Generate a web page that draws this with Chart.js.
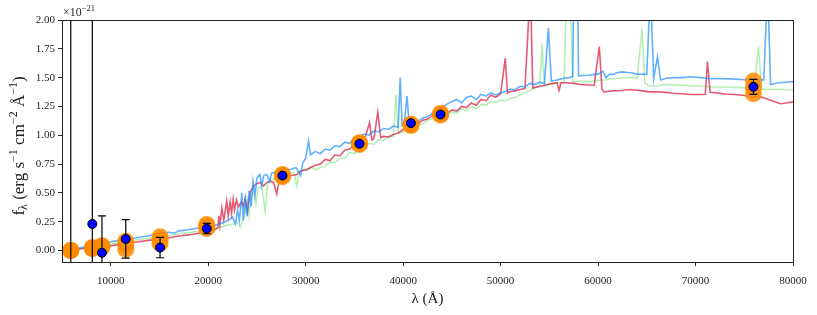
<!DOCTYPE html>
<html>
<head>
<meta charset="utf-8">
<script src="https://cdn.jsdelivr.net/npm/chart.js@4/dist/chart.umd.min.js"></script>
<style>
  body { margin: 0; background: #fff; }
  canvas { display: block; }
</style>
</head>
<body>
<canvas id="sed" width="817" height="315"></canvas>
<script>
// model spectra (flux in units of 1e-21 erg/s/cm2/A)
const lamBlue = [6000,7000,8000,9000,10000,11000,12000,13000,14000,15000,16000,16500,17000,18000,19000,20000,21000,21500,22000,22500,22800,23000,23200,23450,23600,23800,24000,24200,24400,24600,24800,25000,25300,25500,25700,26000,26300,26500,27000,27500,28000,28500,29000,29500,29700,30000,30300,30500,31000,31500,32000,32500,33000,33500,34000,34500,35000,35500,36000,36500,37000,37500,38000,38500,39000,39500,39700,39900,40100,40400,40600,41000,41500,42000,42500,43000,43500,44000,44500,45000,45500,46000,46500,47000,47500,48000,48500,49000,49500,50000,50500,51000,51500,52000,52500,53000,53500,54000,54500,54900,55200,55800,56500,57000,57400,57500,57900,58000,58500,59000,59500,60000,60500,60800,61200,61500,62000,62500,63000,63500,64000,64500,65000,65370,65700,66100,66400,67000,67700,68500,69500,70500,71500,72500,73500,74500,75500,76500,77000,77400,77700,78500,79500,80000];
const fluxBlue = [0.010,0.025,0.040,0.058,0.075,0.090,0.102,0.115,0.130,0.145,0.158,0.150,0.170,0.180,0.195,0.210,0.225,0.240,0.260,0.290,0.230,0.350,0.260,0.500,0.260,0.450,0.300,0.520,0.380,0.600,0.480,0.630,0.660,0.560,0.650,0.660,0.600,0.670,0.680,0.690,0.700,0.705,0.720,0.650,0.760,
    0.800,0.950,0.830,0.860,0.840,0.880,0.870,0.910,0.900,0.940,0.930,0.980,0.990,1.010,1.000,1.035,1.030,1.060,1.050,1.080,1.070,1.500,1.080,1.090,1.340,1.110,1.130,1.120,1.150,1.160,1.190,1.200,1.240,1.270,1.290,1.310,1.280,1.330,1.340,1.310,1.355,1.340,1.370,1.350,1.370,1.380,1.400,1.395,1.425,1.420,1.450,1.440,1.460,1.450,
    1.930,1.470,1.480,1.495,1.500,1.510,2.300,2.300,1.515,1.518,1.520,1.526,1.530,1.555,1.500,1.530,1.525,1.545,1.550,1.545,1.540,1.530,1.530,1.530,2.300,1.490,1.680,1.480,1.495,1.500,1.500,1.507,1.500,1.490,1.492,1.489,1.485,1.483,1.480,1.480,2.300,1.440,1.455,1.462,1.465];

const lamRed = [6000,7000,8000,9000,10000,11000,12000,13000,14000,15000,16000,17000,18000,19000,20000,20500,21000,21100,21200,21400,21600,21900,22050,22250,22400,22560,22700,22900,23100,23400,23600,23800,24000,24300,24640,25000,25330,25700,26000,26350,26700,27040,27300,27700,28070,28500,29100,29500,30100,30500,31000,31500,32000,32500,33000,33500,34000,34500,35000,35500,36000,36550,36800,37000,37400,37700,38000,38500,39000,39500,40000,40500,41000,41500,42000,42500,43000,43500,44000,44500,45000,45500,46000,46500,47000,47500,48000,48500,49000,49500,50000,50480,50700,51000,51500,52000,52500,53050,53300,53800,54300,54800,55400,55800,56000,56200,56800,57500,58200,59000,59600,60130,60400,60600,61000,61500,62300,63300,64000,64500,65300,66000,67000,67700,68500,69500,70500,71000,71220,71500,72000,73000,74000,75000,75500,76500,77000,77500,78000,78700,79300,80000];
const fluxRed = [0.005,0.015,0.025,0.035,0.040,0.055,0.065,0.078,0.090,0.100,0.110,0.125,0.135,0.150,0.160,0.170,0.200,0.300,0.220,0.370,0.260,0.430,0.300,0.420,0.320,0.445,0.350,0.440,0.380,0.420,0.386,0.450,0.330,0.500,0.560,0.580,0.590,0.560,0.590,0.600,0.590,0.490,0.610,0.630,0.646,0.650,0.660,0.690,0.700,0.720,
    0.740,0.750,0.790,0.780,0.830,0.820,0.870,0.880,0.920,0.915,0.950,1.110,0.960,0.970,1.200,0.980,0.990,0.985,1.007,1.020,1.050,1.060,1.090,1.100,1.130,1.140,1.170,1.175,1.195,1.190,1.220,1.210,1.250,1.240,1.280,1.260,1.310,1.300,1.350,1.330,1.360,
    1.670,1.365,1.380,1.385,1.397,1.405,2.300,1.410,1.420,1.430,1.440,1.450,1.455,1.390,1.455,1.455,1.450,1.440,1.436,1.434,1.770,1.400,1.376,1.380,1.385,1.388,1.397,1.390,1.385,1.376,1.378,1.372,1.365,1.360,1.353,1.353,1.355,1.640,1.373,1.370,1.358,1.353,1.345,1.339,1.335,1.325,1.310,1.295,1.273,1.280,1.290];

const lamGreen = [6000,7000,8000,9000,10000,11000,12000,13000,14000,15000,16000,17000,18000,19000,20000,21000,22000,22500,23000,23300,23500,23800,24000,24200,24400,24640,24900,25100,25500,25840,26100,26350,26800,27380,27900,28410,28800,29100,29400,29800,30120,30600,31000,31500,32000,32500,33000,33500,34000,34500,35000,35500,36000,36500,37000,37500,38000,38500,39000,39260,39500,40000,40500,41000,41500,42000,42500,43000,43500,44000,44500,45000,45500,46000,46500,47000,47500,48000,48500,49000,49500,50000,50500,51000,51500,52000,52500,53000,53500,54000,54250,54500,55000,55500,56000,56500,56800,57150,57400,58000,58500,59000,59500,60000,60500,61000,61500,62000,62500,63000,63500,64000,64510,64800,65300,66000,66700,67500,68500,69500,70500,71500,72500,73500,74500,75500,76000,76460,76800,77500,78500,79500,80000];
const fluxGreen = [0.008,0.020,0.032,0.045,0.055,0.070,0.082,0.095,0.108,0.120,0.130,0.145,0.155,0.165,0.175,0.195,0.220,0.228,0.240,0.200,0.256,0.330,0.440,0.300,0.470,0.520,0.400,0.540,0.560,0.340,0.580,0.600,0.620,0.646,0.660,0.675,0.670,0.560,0.690,0.700,0.700,
    0.720,0.700,0.720,0.730,0.770,0.760,0.800,0.800,0.850,0.840,0.880,0.890,0.930,0.920,0.960,0.955,0.990,0.985,1.350,1.020,1.030,1.060,1.070,1.090,1.100,1.130,1.140,1.160,1.170,1.190,1.200,1.190,1.230,1.210,1.250,1.230,1.270,1.260,1.290,1.285,1.305,1.300,1.320,1.330,
    1.350,1.370,1.390,1.410,1.420,1.790,1.430,1.440,1.450,1.455,1.460,2.300,2.300,1.460,1.468,1.468,1.468,1.470,1.474,1.480,1.485,1.490,1.495,1.497,1.500,1.500,1.490,1.920,1.446,1.430,1.425,1.440,1.438,1.434,1.430,1.425,1.420,1.418,1.416,1.413,1.410,1.408,1.770,1.400,1.397,1.397,1.395,1.394];

// synthetic photometry of the three models
const lamBand = [5900,8110,9100,11540,15060,19850,27620,35520,40800,43840,75940];
const photRed = [0.000,0.015,0.030,0.010,0.060,0.190,0.640,0.920,1.085,1.175,1.360];
const photGreen = [0.000,0.020,0.035,0.050,0.090,0.210,0.650,0.930,1.090,1.180,1.410];
const photBlue = [0.000,0.025,0.040,0.080,0.120,0.225,0.660,0.935,1.095,1.190,1.470];

// observed photometry
const lamObs = [5900,8110,9100,11540,15060,19850,27620,35520,40800,43840,75940];
const fluxObs = [-0.45,0.230,-0.020,0.100,0.025,0.190,0.650,0.926,1.105,1.180,1.420];
const errObs = [3.0,3.0,0.320,0.167,0.088,0.045,0.020,0.012,0.012,0.012,0.065];

const xTicks = [10000,20000,30000,40000,50000,60000,70000,80000];
const yTicks = [0,0.25,0.5,0.75,1.0,1.25,1.5,1.75,2.0];

const SERIF = "'Liberation Serif', 'DejaVu Serif', serif";

function pts(xs, ys) {
    return xs.map((v, i) => ({ x: v, y: ys[i] }));
}

const photPts = pts(lamBand, photRed).concat(pts(lamBand, photGreen), pts(lamBand, photBlue));

// error bars go under the blue markers
const errorBars = {
    id: "errorBars",
    beforeDatasetDraw(chart, args) {
        if (args.index !== 0) return;
        const { ctx, chartArea: a } = chart;
        const x = chart.scales.x, y = chart.scales.y;
        ctx.save();
        ctx.beginPath();
        ctx.rect(a.left, a.top, a.right - a.left, a.bottom - a.top);
        ctx.clip();
        ctx.strokeStyle = "#000";
        ctx.lineWidth = 1.2;
        lamObs.forEach((l, i) => {
            const px = x.getPixelForValue(l);
            const top = y.getPixelForValue(fluxObs[i] + errObs[i]);
            const bot = y.getPixelForValue(fluxObs[i] - errObs[i]);
            ctx.beginPath();
            ctx.moveTo(px, top); ctx.lineTo(px, bot);
            ctx.moveTo(px - 4, top); ctx.lineTo(px + 4, top);
            ctx.moveTo(px - 4, bot); ctx.lineTo(px + 4, bot);
            ctx.stroke();
        });
        ctx.restore();
    }
};

// draws a run of [text, size, shift] pieces starting at (x0, y0)
function drawRich(ctx, parts, x0, y0) {
    let cx = x0;
    parts.forEach(([t, size, dy]) => {
        ctx.font = size + "px " + SERIF;
        ctx.fillText(t, cx, y0 + dy);
        cx += ctx.measureText(t).width;
    });
}
function richWidth(ctx, parts) {
    let w = 0;
    parts.forEach(([t, size]) => {
        ctx.font = size + "px " + SERIF;
        w += ctx.measureText(t).width;
    });
    return w;
}

const frameAndLabels = {
    id: "frameAndLabels",
    afterDraw(chart) {
        const { ctx, chartArea: a } = chart;
        ctx.save();
        ctx.strokeStyle = "#222";
        ctx.lineWidth = 1;
        ctx.strokeRect(a.left + 0.5, a.top + 0.5, a.right - a.left, a.bottom - a.top);

        ctx.fillStyle = "#222";
        ctx.textAlign = "left";
        ctx.textBaseline = "alphabetic";

        // offset text above the y axis
        drawRich(ctx, [["×10", 12, 0], ["−21", 8.5, -5]], a.left + 1, 16);

        // x label
        const xl = [["λ (Å)", 15, 0]];
        drawRich(ctx, xl, (a.left + a.right) / 2 - richWidth(ctx, xl) / 2, 303);

        // y label, rotated
        const yl = [["f", 17, 0], ["λ", 12, 3], [" (erg s", 17, 0], ["−1", 12, -7],
                    [" cm", 17, 0], ["−2", 12, -7], [" Å", 17, 0], ["−1", 12, -7], [")", 17, 0]];
        ctx.translate(24, 146);
        ctx.rotate(-Math.PI / 2);
        drawRich(ctx, yl, -richWidth(ctx, yl) / 2, 0);
        ctx.restore();
    }
};

const lineStyle = { showLine: true, pointRadius: 0, borderWidth: 1.6, tension: 0, fill: false };

new Chart(document.getElementById("sed"), {
    type: "scatter",
    data: {
        datasets: [
            { label: "observed", data: pts(lamObs, fluxObs), order: 0,
              pointRadius: 4.5, backgroundColor: "#0000ff", borderColor: "#000", borderWidth: 1 },
            { label: "model photometry", data: photPts, order: 1,
              pointRadius: 8.5, backgroundColor: "rgba(255,140,0,0.85)", borderWidth: 0 },
            { label: "model 3", data: pts(lamBlue, fluxBlue), order: 2,
              borderColor: "rgba(30,144,255,0.7)", ...lineStyle },
            { label: "model 1", data: pts(lamRed, fluxRed), order: 3,
              borderColor: "rgba(220,20,60,0.7)", ...lineStyle },
            { label: "model 2", data: pts(lamGreen, fluxGreen), order: 4,
              borderColor: "rgba(90,220,90,0.45)", ...lineStyle }
        ]
    },
    options: {
        responsive: false,
        animation: false,
        devicePixelRatio: 1,
        layout: { padding: { top: 20, right: 24, left: 0, bottom: 0 } },
        plugins: { legend: { display: false }, tooltip: { enabled: false } },
        scales: {
            x: {
                type: "linear", min: 5000, max: 80000,
                afterFit: s => { s.height = 53; },
                afterBuildTicks: s => { s.ticks = xTicks.map(v => ({ value: v })); },
                grid: { drawOnChartArea: false, drawTicks: true, tickLength: 4, tickColor: "#222" },
                border: { display: true, color: "#222", width: 1 },
                ticks: { padding: 9, color: "#222", maxRotation: 0,
                         font: { family: SERIF, size: 11 }, callback: v => String(v) }
            },
            y: {
                type: "linear", min: -0.1, max: 2.0,
                afterFit: s => { s.width = 62; },
                afterBuildTicks: s => { s.ticks = yTicks.map(v => ({ value: v })); },
                grid: { drawOnChartArea: false, drawTicks: true, tickLength: 4, tickColor: "#222" },
                border: { display: true, color: "#222", width: 1 },
                ticks: { padding: 3, color: "#222",
                         font: { family: SERIF, size: 11 }, callback: v => Number(v).toFixed(2) }
            }
        }
    },
    plugins: [errorBars, frameAndLabels]
});
</script>
</body>
</html>
